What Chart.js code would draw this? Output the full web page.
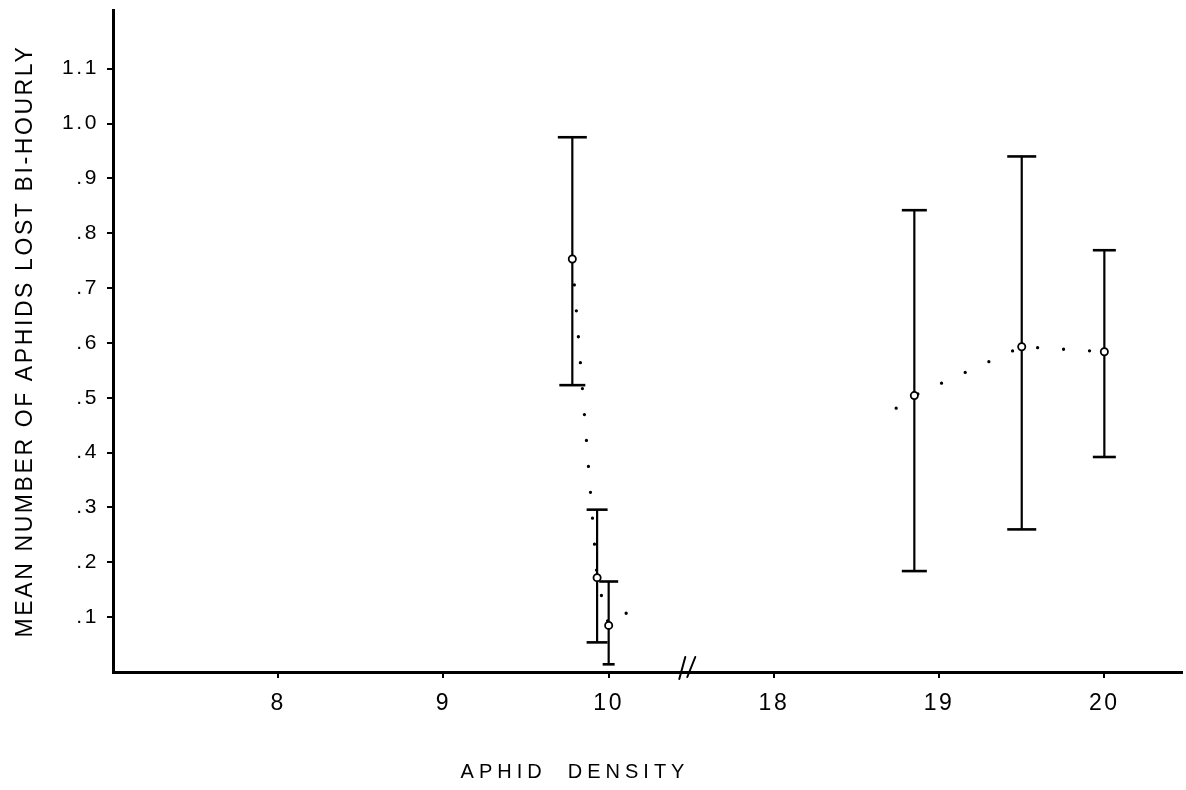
<!DOCTYPE html>
<html>
<head>
<meta charset="utf-8">
<script src="https://cdn.jsdelivr.net/npm/chart.js@4/dist/chart.umd.min.js"></script>
<style>
  html, body { margin: 0; padding: 0; background: #fff; }
  #wrap { width: 1186px; height: 790px; position: relative; }
  canvas { display: block; }
</style>
</head>
<body>
<div id="wrap"><canvas id="c" width="1186" height="790"></canvas></div>
<script>
// ---------- data ----------
const xTickValues = [8, 9, 10, 18, 19, 20];
const xTickLabels = ['8', '9', '10', '18', '19', '20'];
const yTickValues = [0.1, 0.2, 0.3, 0.4, 0.5, 0.6, 0.7, 0.8, 0.9, 1.0, 1.1];
const yTickLabels = ['.1', '.2', '.3', '.4', '.5', '.6', '.7', '.8', '.9', '1.0', '1.1'];

const density   = [9.78, 9.93, 10.0, 18.85, 19.5, 20.0];
const meanLost  = [0.753, 0.172, 0.085, 0.504, 0.593, 0.584];
const lowerLost = [0.523, 0.054, 0.014, 0.184, 0.260, 0.392];
const upperLost = [0.975, 0.296, 0.165, 0.842, 0.940, 0.769];

const trendLowX  = [9.78, 9.93, 10.0, 10.11];
const trendLowY  = [0.753, 0.172, 0.085, 0.108];
const trendHighX = [18.74, 18.85, 19.5, 20.0];
const trendHighY = [0.481, 0.504, 0.593, 0.584];

const xTitle = 'APHID  DENSITY';
const yTitle = 'MEAN NUMBER OF APHIDS LOST BI-HOURLY';

// ---------- style ----------
const capLowerHalf = [13, 10.5, 6, 12.5, 14.5, 11.5];
const capUpperHalf = [14.5, 10.5, 9.5, 12.5, 14.5, 11.5];
const INK = '#000';
const FONT = '"Liberation Sans", Arial, sans-serif';

// broken axis: 8..10 | 18..20 mapped onto one continuous position scale
const BREAK_LOW = 10.5;
function axisPos(d) { return d <= BREAK_LOW ? d - 8 : d - 15; }

const datasets = [];
datasets.push({
  label: 'mean',
  data: density.map((d, i) => ({ x: axisPos(d), y: meanLost[i] })),
  showLine: false,
  pointStyle: 'circle',
  pointRadius: 3.6,
  pointBorderWidth: 1.8,
  pointBorderColor: INK,
  pointBackgroundColor: '#fff',
  order: 0
});
[[trendLowX, trendLowY], [trendHighX, trendHighY]].forEach(([xs, ys]) => {
  datasets.push({
    label: 'trend',
    data: xs.map((d, i) => ({ x: axisPos(d), y: ys[i] })),
    showLine: true,
    borderColor: INK,
    borderWidth: 3.3,
    borderDash: [0, 26],
    borderCapStyle: 'round',
    pointRadius: 0,
    tension: 0,
    order: 1
  });
});
density.forEach((d, i) => {
  datasets.push({
    label: 'range',
    data: [{ x: axisPos(d), y: lowerLost[i] }, { x: axisPos(d), y: upperLost[i] }],
    showLine: true,
    borderColor: INK,
    borderWidth: 2.2,
    pointStyle: 'line',
    pointRadius: [capLowerHalf[i], capUpperHalf[i]],
    pointBorderWidth: 2.6,
    pointBorderColor: INK,
    order: 2
  });
});

const spacingPlugin = {
  id: 'spacing',
  beforeDraw(chart) { chart.ctx.letterSpacing = '2.6px'; },
  afterDraw(chart) {
    const ctx = chart.ctx;
    ctx.letterSpacing = '0px';
    const xs = chart.scales.x, ys = chart.scales.y;
    const bx = xs.getPixelForValue(axisPos(BREAK_LOW));
    const by = ys.getPixelForValue(0);
    ctx.save();
    ctx.strokeStyle = INK;
    ctx.lineWidth = 2;
    ctx.lineCap = 'round';
    ctx.beginPath();
    ctx.moveTo(bx - 12, by + 7); ctx.lineTo(bx - 6, by - 15);
    ctx.moveTo(bx - 4, by + 5); ctx.lineTo(bx + 4, by - 15);
    ctx.stroke();
    ctx.letterSpacing = '5px';
    ctx.font = '20px ' + FONT;
    ctx.fillStyle = INK;
    ctx.textAlign = 'center';
    ctx.textBaseline = 'middle';
    ctx.fillText(xTitle, 575, 772);
    ctx.restore();
  }
};

new Chart(document.getElementById('c'), {
  type: 'scatter',
  data: { datasets },
  options: {
    responsive: false,
    animation: false,
    events: [],
    layout: { autoPadding: false, padding: { top: 10, right: 4, left: 0, bottom: 0 } },
    plugins: { legend: { display: false }, tooltip: { enabled: false }, title: { display: false } },
    scales: {
      x: {
        type: 'linear',
        min: axisPos(7.0),
        max: axisPos(20.47),
        afterFit(scale) { scale.height = 118; scale.paddingLeft = 0; scale.paddingRight = 0; },
        afterBuildTicks(scale) { scale.ticks = xTickValues.map(v => ({ value: axisPos(v) })); },
        ticks: {
          color: INK,
          font: { family: FONT, size: 23 },
          padding: 12,
          maxRotation: 0,
          autoSkip: false,
          callback(value, index) { return xTickLabels[index]; }
        },
        grid: { drawOnChartArea: false, drawTicks: true, tickLength: 6, color: INK, lineWidth: 2 },
        border: { display: true, color: INK, width: 3 }
      },
      y: {
        type: 'linear',
        min: 0,
        max: 1.207,
        afterFit(scale) { scale.width = 113; scale.paddingTop = 0; scale.paddingBottom = 0; },
        afterBuildTicks(scale) { scale.ticks = yTickValues.map(v => ({ value: v })); },
        ticks: {
          color: INK,
          font: { family: FONT, size: 21 },
          padding: 8,
          autoSkip: false,
          callback(value, index) { return yTickLabels[index]; }
        },
        grid: { drawOnChartArea: false, drawTicks: true, tickLength: 6, color: INK, lineWidth: 2 },
        border: { display: true, color: INK, width: 3 },
        title: {
          display: true,
          text: yTitle,
          color: INK,
          font: { family: FONT, size: 23 },
          padding: { top: 12, bottom: 0 }
        }
      }
    }
  },
  plugins: [spacingPlugin]
});
</script>
</body>
</html>
